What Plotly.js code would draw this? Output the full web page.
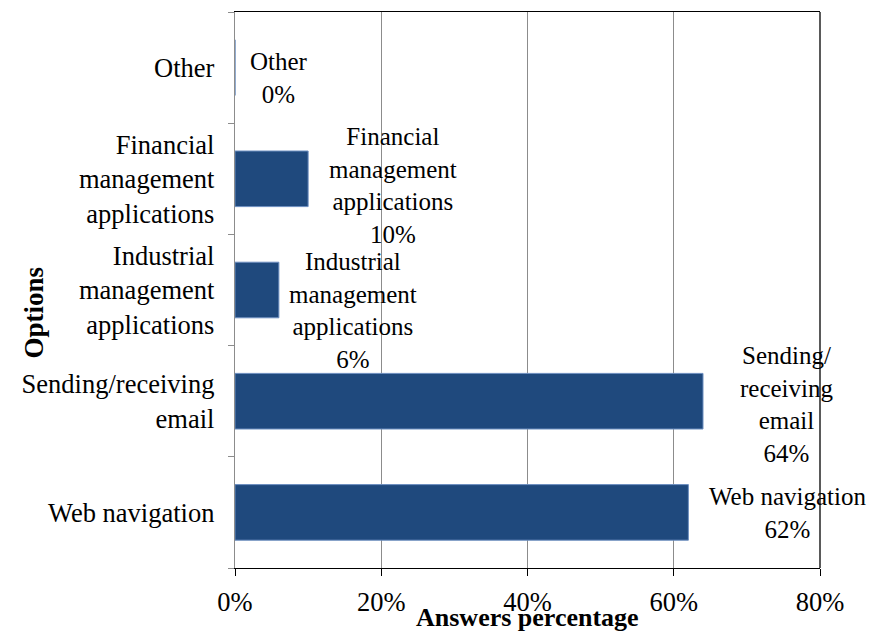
<!DOCTYPE html>
<html>
<head>
<meta charset="utf-8">
<script src="https://cdn.plot.ly/plotly-3.0.1.min.js"></script>
<style>html,body{margin:0;padding:0;background:#fff}#chart{width:881px;height:634px}</style>
</head>
<body>
<div id="chart"></div>
<script>
const categories = ['Web navigation', 'Sending/receiving<br>email', 'Industrial<br>management<br>applications', 'Financial<br>management<br>applications', 'Other'];
const values = [62, 64, 6, 10, 0];
const dataLabels = ['Web navigation<br>62%', 'Sending/<br>receiving<br>email<br>64%', 'Industrial<br>management<br>applications<br>6%', 'Financial<br>management<br>applications<br>10%', 'Other<br>0%'];
const xTickVals = [0, 20, 40, 60, 80];
const xTickText = ['0%', '20%', '40%', '60%', '80%'];

const FONT = "'Liberation Serif', 'Times New Roman', serif";

// label placement offsets in pixels (style only, as hand-placed in the original)
const labelDx = [19, 35, 8, 19, 13];
const labelDy = [-1, -3, -20, -7, -10];

const trace = {
  type: 'bar',
  orientation: 'h',
  x: values,
  y: categories,
  width: 0.5,
  marker: {color: '#1f497d', line: {color: '#6d8fc0', width: 1}},
  hoverinfo: 'skip'
};

const annotations = values.map((v, i) => ({
  x: v, y: categories[i], xref: 'x', yref: 'y',
  text: dataLabels[i], showarrow: false,
  xanchor: 'left', yanchor: 'middle', xshift: labelDx[i], yshift: labelDy[i], align: 'center',
  font: {family: FONT, size: 25, color: '#000'}
}));
annotations.push({
  xref: 'paper', yref: 'paper', x: 0.5, y: -0.089, yanchor: 'middle',
  text: '<b>Answers percentage</b>', showarrow: false,
  font: {family: FONT, size: 26, color: '#000'}
});
annotations.push({
  xref: 'paper', yref: 'paper', x: -0.343, y: 0.46, textangle: -90,
  xanchor: 'center', yanchor: 'middle',
  text: '<b>Options</b>', showarrow: false,
  font: {family: FONT, size: 27, color: '#000'}
});

const layout = {
  width: 881, height: 634,
  margin: {l: 235, r: 61, t: 12, b: 66, pad: 0},
  paper_bgcolor: '#fff', plot_bgcolor: '#fff',
  showlegend: false,
  font: {family: FONT, size: 26, color: '#000'},
  xaxis: {
    range: [0, 80], tickvals: xTickVals, ticktext: xTickText,
    showgrid: true, gridcolor: '#8c8c8c', gridwidth: 1,
    zeroline: false,
    showline: true, linecolor: '#000', linewidth: 1.3, mirror: true,
    ticks: 'outside', ticklen: 7, tickcolor: '#000', tickwidth: 1,
    ticklabelstandoff: 3,
    tickfont: {family: FONT, size: 26.5, color: '#000'}
  },
  yaxis: {
    type: 'category', range: [-0.5, 4.5],
    tickson: 'boundaries',
    showgrid: false, zeroline: false,
    showline: true, linecolor: '#8c8c8c', linewidth: 1.3,
    ticks: 'outside', ticklen: 6, tickcolor: '#8c8c8c', tickwidth: 1,
    ticklabelstandoff: 14,
    tickfont: {family: FONT, size: 26.5, color: '#000'}
  },
  shapes: [{
    type: 'line', xref: 'paper', yref: 'paper', x0: 1, x1: 1, y0: 0, y1: 1,
    line: {color: '#000', width: 1.3}, layer: 'above'
  }],
  annotations: annotations
};

Plotly.newPlot('chart', [trace], layout, {displayModeBar: false, staticPlot: true});
</script>
</body>
</html>
